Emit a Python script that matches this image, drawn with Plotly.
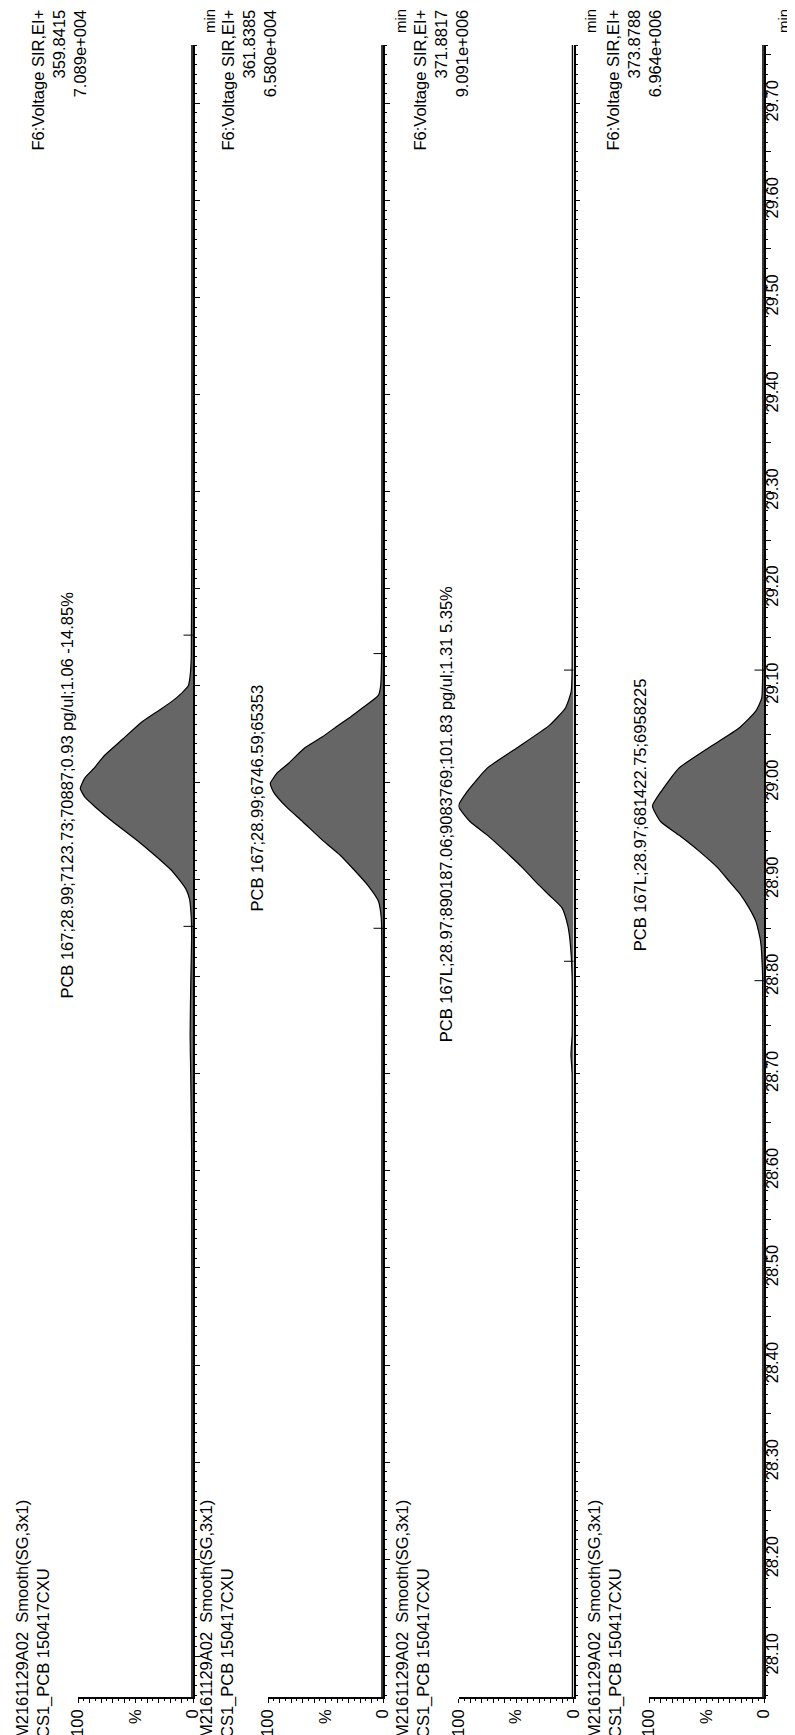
import plotly.graph_objects as go

W, H = 795, 1735

# ---------------- data ----------------
FUNC_LABEL = "F6:Voltage SIR,EI+"
MASSES = ["359.8415", "361.8385", "371.8817", "373.8788"]
MAX_INTENS = ["7.089e+004", "6.580e+004", "9.091e+006", "6.964e+006"]
SAMPLE_L1 = "M2161129A02&nbsp; Smooth(SG,3x1)"
SAMPLE_L2 = "CS1_PCB 150417CXU"
PEAK_LABELS = [
    "PCB 167;28.99;7123.73;70887;0.93 pg/ul;1.06 -14.85%",
    "PCB 167;28.99;6746.59;65353",
    "PCB 167L;28.97;890187.06;9083769;101.83 pg/ul;1.31 5.35%",
    "PCB 167L;28.97;681422.75;6958225",
]
PEAK_LABEL_T = [28.987, 28.984, 28.967, 28.967]
PEAK_APEX_I = [98, 98, 100, 97]

T1 = [28.058, 28.40, 28.62, 28.70, 28.74, 28.79, 28.84, 28.86, 28.88, 28.89, 28.90, 28.91,
      28.925, 28.94, 28.96, 28.975, 28.985, 28.994, 29.005, 29.015, 29.028, 29.045, 29.063,
      29.075, 29.084, 29.092, 29.100, 29.11, 29.13, 29.30, 29.76]
I1 = [1.0, 1.0, 1.2, 2.0, 2.5, 2.0, 1.2, 1.5, 3, 6, 12, 19,
      33, 48, 70, 85, 94, 98, 94, 86, 77, 61, 44,
      29, 18, 10, 4, 2.5, 1.5, 1.0, 1.0]

T2 = [28.058, 28.50, 28.80, 28.86, 28.878, 28.894, 28.91, 28.925, 28.94, 28.96, 28.975,
      28.99, 28.999, 29.01, 29.02, 29.036, 29.047, 29.059, 29.068, 29.077, 29.09, 29.10,
      29.13, 29.40, 29.76]
I2 = [1.0, 1.0, 1.0, 1.5, 4, 13, 25, 37, 52, 70, 84,
      95, 98, 92, 82, 68, 53, 39, 28, 18, 4, 2,
      1.2, 1.0, 1.0]

T3 = [28.058, 28.50, 28.70, 28.72, 28.74, 28.80, 28.837, 28.853, 28.871, 28.884, 28.898,
      28.912, 28.93, 28.946, 28.96, 28.976, 28.99, 29.015, 29.036, 29.059, 29.077, 29.094,
      29.12, 29.40, 29.76]
I3 = [1.0, 1.0, 1.2, 2.2, 1.2, 1.2, 3, 5, 10, 21, 33,
      44, 60, 75, 90, 100, 93, 75, 49, 21, 7, 2,
      1.2, 1.0, 1.0]

T4 = [28.058, 28.50, 28.80, 28.837, 28.857, 28.871, 28.884, 28.898, 28.912, 28.93, 28.946,
      28.96, 28.976, 28.99, 29.015, 29.036, 29.056, 29.074, 29.087, 29.11, 29.40, 29.76]
I4 = [1.0, 1.0, 1.2, 3, 7, 13, 20, 30, 40, 57, 74,
      90, 97, 90, 74, 48, 22, 7, 2, 1.2, 1.0, 1.0]

TRACES_T = [T1, T2, T3, T4]
TRACES_I = [I1, I2, I3, I4]
MARK_T = [[28.852, 29.152], [28.85, 29.133], [28.816, 29.116], [28.796, 29.116]]

TIME_LABELS = ["28.10", "28.20", "28.30", "28.40", "28.50", "28.60", "28.70", "28.80", "28.90",
               "29.00", "29.10", "29.20", "29.30", "29.40", "29.50", "29.60", "29.70"]
PCT_LABELS = {0: "0", 50: "%", 100: "100"}

T_RANGE = [28.058, 29.760]

# ---------------- layout geometry (pixels) ----------------
ML, MR, MT, MB = 0, 0, 37, 46
PLOT_H = H - MT - MB
AX_RIGHT = [185, 375, 565.5, 756]       # 0 % line of each panel
SPAN = 115                               # 0..100 % width
TOP_BLOCK_X = [51, 241, 433, 626]
BOT_BLOCK_X = [25, 209, 405, 597]
MIN_X = [201, 392, 582, 775]

FONT = "Liberation Sans, Arial, sans-serif"
FS = 16.5


def px(x):
    return x / W


def py(y):
    return (H - MB - y) / PLOT_H


fig = go.Figure()

# time tick values (every 0.05) with labels at each 0.10
tick_vals, tick_text = [], []
for lab in TIME_LABELS:
    v = float(lab)
    tick_vals.append(v)
    tick_text.append(lab)
    tick_vals.append(round(v + 0.05, 2))
    tick_text.append("")

pct_vals = list(range(0, 101, 10))
pct_text = [PCT_LABELS.get(v, "") for v in pct_vals]

annotations = []
for k in range(4):
    xa = "x" if k == 0 else f"x{k+1}"
    ya = "y" if k == 0 else f"y{k+1}"
    fig.add_trace(go.Scatter(
        x=TRACES_I[k], y=TRACES_T[k], xaxis=xa, yaxis=ya, mode="lines",
        line=dict(color="black", width=1.2, shape="spline", smoothing=0.5),
        fill="tozerox", fillcolor="#666666", hoverinfo="skip", showlegend=False))
    fig.add_trace(go.Scatter(
        x=[4] * len(MARK_T[k]), y=MARK_T[k], xaxis=xa, yaxis=ya, mode="markers",
        marker=dict(symbol="line-ew", size=7, line=dict(color="black", width=1)),
        hoverinfo="skip", showlegend=False))

    r = AX_RIGHT[k]
    l = r - SPAN
    fig.layout[f"xaxis{'' if k == 0 else k+1}"] = dict(
        domain=[px(l), px(r)], range=[100, 0], anchor=ya,
        showline=True, linecolor="black", linewidth=1.5, mirror=False,
        showgrid=False, zeroline=False,
        tickmode="array", tickvals=pct_vals, ticktext=pct_text,
        ticks="outside", ticklen=4, tickwidth=1, tickcolor="black",
        minor=dict(tickmode="linear", tick0=0, dtick=5, ticks="outside", ticklen=2,
                   tickcolor="black"),
        tickangle=-90, tickfont=dict(family=FONT, size=FS, color="black"),
        fixedrange=True)
    fig.layout[f"yaxis{'' if k == 0 else k+1}"] = dict(
        domain=[0, 1], range=T_RANGE, anchor=xa, side="right",
        showline=True, linecolor="black", linewidth=1.5,
        showgrid=False, zeroline=False,
        tickmode="array", tickvals=tick_vals, ticktext=tick_text,
        showticklabels=(k == 3), ticklabelstandoff=-13,
        ticks="outside", ticklen=5, tickwidth=1, tickcolor="black",
        minor=dict(tickmode="linear", tick0=28.0, dtick=0.01, ticks="outside", ticklen=2.5,
                   tickcolor="black"),
        tickangle=-90, tickfont=dict(family=FONT, size=FS, color="black"),
        fixedrange=True)

    # peak label
    annotations.append(dict(
        x=PEAK_APEX_I[k], y=PEAK_LABEL_T[k], xref=xa, yref=ya, text=PEAK_LABELS[k],
        textangle=-90, xanchor="right", yanchor="middle", xshift=-2, showarrow=False,
        font=dict(family=FONT, size=FS, color="black")))
    # function / mass / intensity block (top)
    annotations.append(dict(
        x=px(TOP_BLOCK_X[k]), y=py(0), xref="paper", yref="paper",
        text=f"{FUNC_LABEL}<br>{MASSES[k]}<br>{MAX_INTENS[k]}",
        textangle=-90, align="right", xanchor="center", yanchor="top", showarrow=False,
        font=dict(family=FONT, size=FS, color="black")))
    # sample block (bottom)
    annotations.append(dict(
        x=px(BOT_BLOCK_X[k]), y=py(1732), xref="paper", yref="paper",
        text=f"{SAMPLE_L1}<br>{SAMPLE_L2}",
        textangle=-90, align="left", xanchor="center", yanchor="bottom", showarrow=False,
        font=dict(family=FONT, size=FS, color="black")))
    # "min"
    annotations.append(dict(
        x=px(MIN_X[k]), y=py(27), xref="paper", yref="paper", text="min",
        textangle=-90, xanchor="center", yanchor="bottom", showarrow=False,
        font=dict(family=FONT, size=15, color="black")))

fig.update_layout(
    width=W, height=H,
    margin=dict(l=ML, r=MR, t=MT, b=MB, autoexpand=False),
    paper_bgcolor="white", plot_bgcolor="white",
    showlegend=False, annotations=annotations,
    font=dict(family=FONT, size=FS, color="black"),
)

fig.write_html("out.html")
